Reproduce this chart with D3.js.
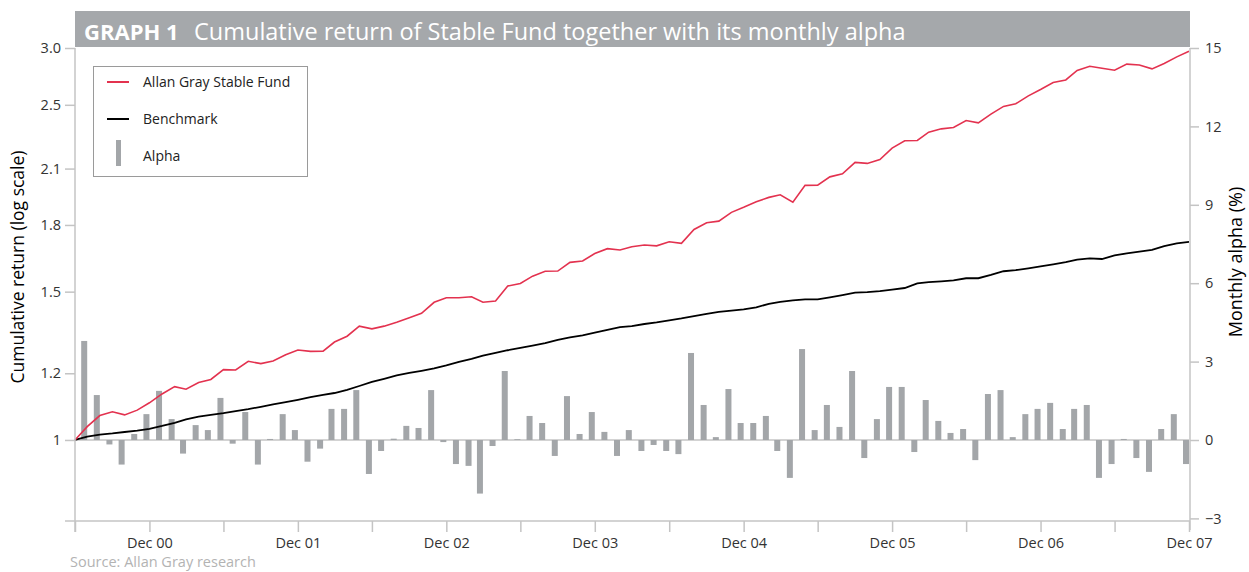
<!DOCTYPE html>
<html>
<head>
<meta charset="utf-8">
<script src="https://cdn.jsdelivr.net/npm/d3@7"></script>
<style>
  body { margin: 0; background: #fff; }
  svg { display: block; font-family: "Open Sans", "Noto Sans", sans-serif; }
</style>
</head>
<body>
<svg id="chart" width="1249" height="572"></svg>
<script>
// monthly series, Jun 2000 .. Dec 2007 (cumulative, start = 1)
const startMonth = new Date(2000, 5, 1);
const endMonth = new Date(2007, 11, 1);

const fund = [
  1.000, 1.037, 1.069, 1.080, 1.071, 1.085, 1.107, 1.134, 1.157, 1.149,
  1.170, 1.180, 1.212, 1.211, 1.240, 1.232, 1.241, 1.262, 1.279, 1.274,
  1.275, 1.307, 1.328, 1.365, 1.355, 1.365, 1.380, 1.397, 1.414, 1.457,
  1.475, 1.475, 1.479, 1.457, 1.462, 1.523, 1.534, 1.565, 1.586, 1.587,
  1.625, 1.631, 1.665, 1.687, 1.681, 1.696, 1.704, 1.700, 1.719, 1.712,
  1.778, 1.811, 1.819, 1.863, 1.889, 1.918, 1.941, 1.955, 1.916, 2.006,
  2.007, 2.053, 2.070, 2.136, 2.130, 2.153, 2.221, 2.266, 2.268, 2.320,
  2.341, 2.350, 2.395, 2.380, 2.437, 2.489, 2.507, 2.562, 2.607, 2.657,
  2.676, 2.746, 2.778, 2.763, 2.748, 2.794, 2.788, 2.758, 2.799, 2.850,
  2.894
];

const benchmark = [
  1.000, 1.009, 1.015, 1.018, 1.022, 1.026, 1.031, 1.039, 1.048, 1.058,
  1.066, 1.071, 1.076, 1.082, 1.088, 1.095, 1.102, 1.109, 1.116, 1.124,
  1.131, 1.137, 1.147, 1.159, 1.172, 1.182, 1.193, 1.201, 1.208, 1.216,
  1.226, 1.238, 1.248, 1.259, 1.269, 1.278, 1.286, 1.294, 1.303, 1.315,
  1.324, 1.331, 1.341, 1.351, 1.361, 1.365, 1.373, 1.379, 1.387, 1.394,
  1.403, 1.412, 1.419, 1.424, 1.429, 1.437, 1.451, 1.459, 1.465, 1.469,
  1.469, 1.477, 1.486, 1.496, 1.498, 1.502, 1.508, 1.515, 1.534, 1.540,
  1.543, 1.547, 1.556, 1.556, 1.570, 1.586, 1.591, 1.599, 1.607, 1.616,
  1.626, 1.637, 1.643, 1.640, 1.656, 1.665, 1.673, 1.681, 1.699, 1.712,
  1.719
];

// monthly alpha (%), Jul 2000 .. Dec 2007
const alpha = [
  3.79, 1.72, -0.17, -0.94, 0.23, 0.99, 1.88, 0.80, -0.52, 0.57,
  0.38, 1.61, -0.14, 1.07, -0.94, 0.04, 0.99, 0.38, -0.83, -0.33,
  1.19, 1.19, 1.91, -1.30, -0.42, 0.05, 0.54, 0.46, 1.91, -0.08,
  -0.92, -0.99, -2.05, -0.23, 2.64, 0.03, 0.92, 0.65, -0.61, 1.68,
  0.23, 1.07, 0.31, -0.61, 0.38, -0.42, -0.19, -0.42, -0.54, 3.33,
  1.34, 0.11, 1.95, 0.65, 0.65, 0.92, -0.42, -1.45, 3.48, 0.38,
  1.34, 0.50, 2.64, -0.69, 0.80, 2.03, 2.03, -0.46, 1.53, 0.73,
  0.27, 0.42, -0.77, 1.76, 1.91, 0.11, 0.99, 1.19, 1.42, 0.42,
  1.19, 1.34, -1.45, -0.92, 0.04, -0.69, -1.22, 0.42, 0.99, -0.92
];

const leftDomain = [0.807, 2.92];
const leftTickValues = [1, 1.2, 1.5, 1.8, 2.1, 2.5, 2.92];
const leftTickLabels = ["1", "1.2", "1.5", "1.8", "2.1", "2.5", "3.0"];
const rightDomain = [-3, 15];
const rightTicks = [-3, 0, 3, 6, 9, 12, 15];

const titleBold = "GRAPH 1";
const titleText = "Cumulative return of Stable Fund together with its monthly alpha";
const legendNames = ["Allan Gray Stable Fund", "Benchmark", "Alpha"];

const red = "#e3324f",
  grey = "#a3a6a9",
  axisGrey = "#c4c4c4",
  textCol = "#333";

const svg = d3.select("#chart");
const margin = { top: 48, right: 1189, bottom: 518.4, left: 75 };

const months = d3.timeMonth.range(startMonth, d3.timeMonth.offset(endMonth, 1));

const x = d3.scaleTime().domain([startMonth, endMonth]).range([margin.left, margin.right]);
const yL = d3.scaleLog().domain(leftDomain).range([margin.bottom, margin.top]);
const yR = d3.scaleLinear().domain(rightDomain).range([margin.bottom, margin.top]);

// title band
svg.append("rect")
  .attr("x", margin.left).attr("y", 11)
  .attr("width", margin.right + 1 - margin.left).attr("height", 36)
  .attr("fill", "#a5a8ab");
svg.append("text")
  .attr("x", 84).attr("y", 40)
  .attr("fill", "#fff").style("font-size", "22px").style("font-weight", 700)
  .text(titleBold);
svg.append("text")
  .attr("x", 194).attr("y", 40)
  .attr("fill", "#fff").style("font-size", "23.5px")
  .text(titleText);

// zero line
svg.append("line")
  .attr("x1", margin.left).attr("x2", margin.right)
  .attr("y1", yR(0)).attr("y2", yR(0))
  .attr("stroke", axisGrey).attr("stroke-width", 1.5);

// alpha bars (right edge on the month)
const barW = 6;
svg.append("g").selectAll("rect")
  .data(alpha)
  .join("rect")
  .attr("x", (d, i) => x(months[i + 1]) - barW)
  .attr("width", barW)
  .attr("y", (d) => yR(Math.max(0, d)))
  .attr("height", (d) => Math.abs(yR(d) - yR(0)))
  .attr("fill", grey);

// lines
const line = d3.line()
  .x((d, i) => x(months[i]))
  .y((d) => yL(d));

svg.append("path")
  .datum(benchmark)
  .attr("d", line)
  .attr("fill", "none").attr("stroke", "#000").attr("stroke-width", 1.8);

svg.append("path")
  .datum(fund)
  .attr("d", line)
  .attr("fill", "none").attr("stroke", red).attr("stroke-width", 1.6);

// left axis
const leftAxis = d3.axisLeft(yL)
  .tickValues(leftTickValues)
  .tickFormat((d, i) => leftTickLabels[i])
  .tickSizeOuter(0)
  .tickSize(10)
  .tickPadding(4);
const gl = svg.append("g").attr("transform", `translate(${margin.left},0)`).call(leftAxis);
gl.select(".domain").remove();
gl.append("line")
  .attr("y1", margin.top).attr("y2", 532)
  .attr("stroke", axisGrey).attr("stroke-width", 1.5);

// right axis
const rightAxis = d3.axisRight(yR)
  .tickValues(rightTicks)
  .tickSizeOuter(0)
  .tickSize(9)
  .tickPadding(6);
const gr = svg.append("g").attr("transform", `translate(${margin.right + 1},0)`).call(rightAxis);
gr.select(".domain").remove();
gr.append("line")
  .attr("y1", margin.top).attr("y2", 530)
  .attr("stroke", axisGrey).attr("stroke-width", 1.5);

// bottom axis
const xTicks = months.filter((d, i) => i % 6 === 0);
const bottomAxis = d3.axisBottom(x)
  .tickValues(xTicks)
  .tickFormat((d) => (d.getMonth() === 11 ? d3.timeFormat("%b %y")(d) : ""))
  .tickSizeOuter(0)
  .tickSize(11)
  .tickPadding(6);
const gb = svg.append("g").attr("transform", "translate(0,521)").call(bottomAxis);
gb.select(".domain").remove();
gb.append("line")
  .attr("x1", 65).attr("x2", margin.right + 1)
  .attr("stroke", axisGrey).attr("stroke-width", 1.5);

[gl, gr, gb].forEach((g) => {
  g.selectAll(".tick line").attr("stroke", axisGrey).attr("stroke-width", 1.5);
  g.selectAll(".tick text")
    .attr("fill", textCol)
    .style("font-size", "14.5px")
    .style("font-family", '"Open Sans", sans-serif');
});

// axis titles
svg.append("text")
  .attr("transform", "translate(24,267) rotate(-90)")
  .attr("text-anchor", "middle")
  .style("font-size", "17.5px").attr("fill", "#000")
  .text("Cumulative return (log scale)");
svg.append("text")
  .attr("transform", "translate(1242,262) rotate(-90)")
  .attr("text-anchor", "middle")
  .style("font-size", "18px").attr("fill", "#000")
  .text("Monthly alpha (%)");

// legend
const lg = svg.append("g");
lg.append("rect")
  .attr("x", 93.5).attr("y", 66.5).attr("width", 214).attr("height", 110)
  .attr("fill", "#fff").attr("stroke", "#9a9a9a");
const legendY = [82, 119, 156];
lg.append("line")
  .attr("x1", 107).attr("x2", 129).attr("y1", legendY[0]).attr("y2", legendY[0])
  .attr("stroke", red).attr("stroke-width", 2);
lg.append("line")
  .attr("x1", 107).attr("x2", 129).attr("y1", legendY[1]).attr("y2", legendY[1])
  .attr("stroke", "#000").attr("stroke-width", 2);
lg.append("rect")
  .attr("x", 116).attr("y", 140).attr("width", 5).attr("height", 26)
  .attr("fill", grey);
lg.selectAll("text.item")
  .data(legendNames)
  .join("text")
  .attr("class", "item")
  .attr("x", 143)
  .attr("y", (d, i) => legendY[i] + 5)
  .style("font-size", "14px").attr("fill", "#222")
  .text((d) => d);

// source
svg.append("text")
  .attr("x", 70).attr("y", 567)
  .style("font-size", "14.5px").attr("fill", "#b3b3b3")
  .text("Source: Allan Gray research");
</script>
</body>
</html>
